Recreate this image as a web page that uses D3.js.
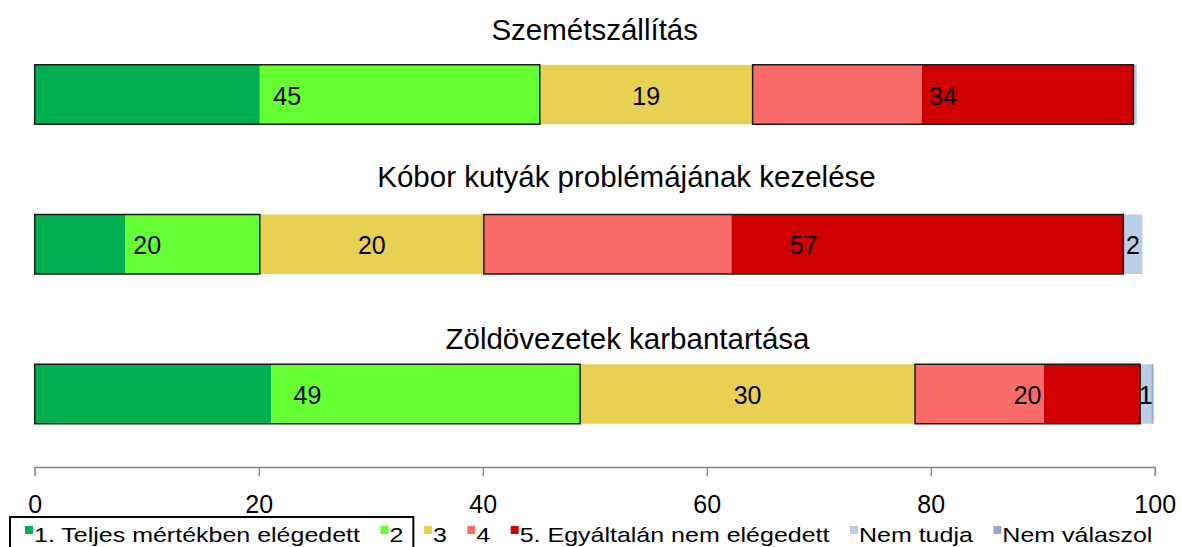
<!DOCTYPE html>
<html>
<head>
<meta charset="utf-8">
<script src="https://cdn.jsdelivr.net/npm/d3@7"></script>
<style>
  html, body { margin: 0; padding: 0; background: #fff; }
  svg { display: block; font-family: "Liberation Sans", Arial, sans-serif; }
</style>
</head>
<body>
<svg id="chart" width="1181" height="547"></svg>
<script>
// ---- data ----
const categories = ["Szemétszállítás", "Kóbor kutyák problémájának kezelése", "Zöldövezetek karbantartása"];
const seriesNames = ["1. Teljes mértékben elégedett", "2", "3", "4", "5. Egyáltalán nem elégedett", "Nem tudja", "Nem válaszol"];
const s1 = [20.1, 8.1, 21.1];
const s2 = [25.0, 12.0, 27.6];
const s3 = [19.0, 20.0, 29.9];
const s4 = [15.1, 22.1, 11.5];
const s5 = [18.9, 35.0, 8.6];
const sNemTudja = [0.3, 1.7, 1.0];
const sNemValaszol = [0.0, 0.0, 0.2];
const xTicks = [0, 20, 40, 60, 80, 100];
const seriesColors = ["#00B050", "#66FF33", "#E8D152", "#F96C6A", "#D00000", "#B9CDE5", "#95A9D3"];

const allSeries = [s1, s2, s3, s4, s5, sNemTudja, sNemValaszol];

// ---- layout ----
const svg = d3.select("#chart");
const x = d3.scaleLinear().domain([0, 100]).range([34.7, 1154.7]);
const yc = d3.scalePoint().domain(categories).range([94.5, 394]);
const barH = 59.5;
const titlePos = {
  [categories[0]]: { x: 594.7, y: 40 },
  [categories[1]]: { x: 626.5, y: 187 },
  [categories[2]]: { x: 627.5, y: 349 }
};

// table rows
const rows = categories.map((c, i) => {
  const vals = allSeries.map(s => s[i]);
  let acc = 0;
  const segs = vals.map((v, k) => { const seg = { k, x0: acc, x1: acc + v }; acc += v; return seg; });
  return { c, vals, segs };
});

// titles
svg.append("g").selectAll("text").data(categories).join("text")
  .attr("x", d => titlePos[d].x)
  .attr("y", d => titlePos[d].y)
  .attr("text-anchor", "middle")
  .attr("font-size", 29.5)
  .attr("fill", "#000")
  .text(d => d);

// segments
const gBars = svg.append("g");
rows.forEach(r => {
  const top = yc(r.c) - barH / 2;
  gBars.selectAll(null).data(r.segs.filter(s => s.x1 > s.x0)).join("rect")
    .attr("x", s => x(s.x0))
    .attr("y", top)
    .attr("width", s => x(s.x1) - x(s.x0))
    .attr("height", barH)
    .attr("fill", s => seriesColors[s.k]);
});

// group outlines (1+2) and (4+5)
rows.forEach(r => {
  const top = yc(r.c) - barH / 2;
  const groups = [[r.segs[0].x0, r.segs[1].x1], [r.segs[3].x0, r.segs[4].x1]];
  gBars.selectAll(null).data(groups).join("rect")
    .attr("x", g => x(g[0]))
    .attr("y", top)
    .attr("width", g => x(g[1]) - x(g[0]))
    .attr("height", barH)
    .attr("fill", "none")
    .attr("stroke", "#1a1a1a")
    .attr("stroke-width", 1.5);
});

// labels (group sums)
rows.forEach(r => {
  const v = r.vals;
  const labels = [
    { a: r.segs[0].x0, b: r.segs[1].x1, val: v[0] + v[1] },
    { a: r.segs[2].x0, b: r.segs[2].x1, val: v[2] },
    { a: r.segs[3].x0, b: r.segs[4].x1, val: v[3] + v[4] },
    { a: r.segs[5].x0, b: r.segs[5].x1, val: v[5] }
  ].filter(l => Math.round(l.val) >= 1);
  svg.append("g").selectAll("text").data(labels).join("text")
    .attr("x", l => x((l.a + l.b) / 2))
    .attr("y", yc(r.c) + 10)
    .attr("text-anchor", "middle")
    .attr("font-size", 25)
    .attr("fill", "#000")
    .text(l => Math.round(l.val));
});

// axis
const axis = d3.axisBottom(x).tickValues(xTicks).tickSize(9).tickPadding(19).tickSizeOuter(9);
const gAxis = svg.append("g").attr("transform", "translate(0,467)").call(axis);
gAxis.select(".domain").attr("stroke", "#868686").attr("stroke-width", 1.3);
gAxis.selectAll(".tick line").attr("stroke", "#868686").attr("stroke-width", 1.3);
gAxis.selectAll(".tick text").attr("font-size", 25).attr("fill", "#000")
  .attr("font-family", "'Liberation Sans', Arial, sans-serif");

// legend
const legendFont = 21, stretch = 1.19, markerSize = 8, gap = 20.5;
const legendBaseline = 541.5;
const gLeg = svg.append("g");
let lx = 25;
const itemBounds = [];
seriesNames.forEach((name, i) => {
  gLeg.append("rect")
    .attr("x", lx).attr("y", legendBaseline - 15.5)
    .attr("width", markerSize).attr("height", markerSize)
    .attr("fill", seriesColors[i]);
  const tx = lx + markerSize + 1;
  const t = gLeg.append("text")
    .attr("transform", `translate(${tx},${legendBaseline}) scale(${stretch},1)`)
    .attr("font-size", legendFont)
    .attr("fill", "#000")
    .text(name);
  const w = t.node().getComputedTextLength() * stretch;
  itemBounds.push([lx, tx + w]);
  lx = tx + w + gap;
});
// selection box around first legend items
gLeg.append("rect")
  .attr("x", 10).attr("y", 517)
  .attr("width", itemBounds[1][1] + 10 - 10)
  .attr("height", 40)
  .attr("fill", "none")
  .attr("stroke", "#000")
  .attr("stroke-width", 2);
</script>
</body>
</html>
